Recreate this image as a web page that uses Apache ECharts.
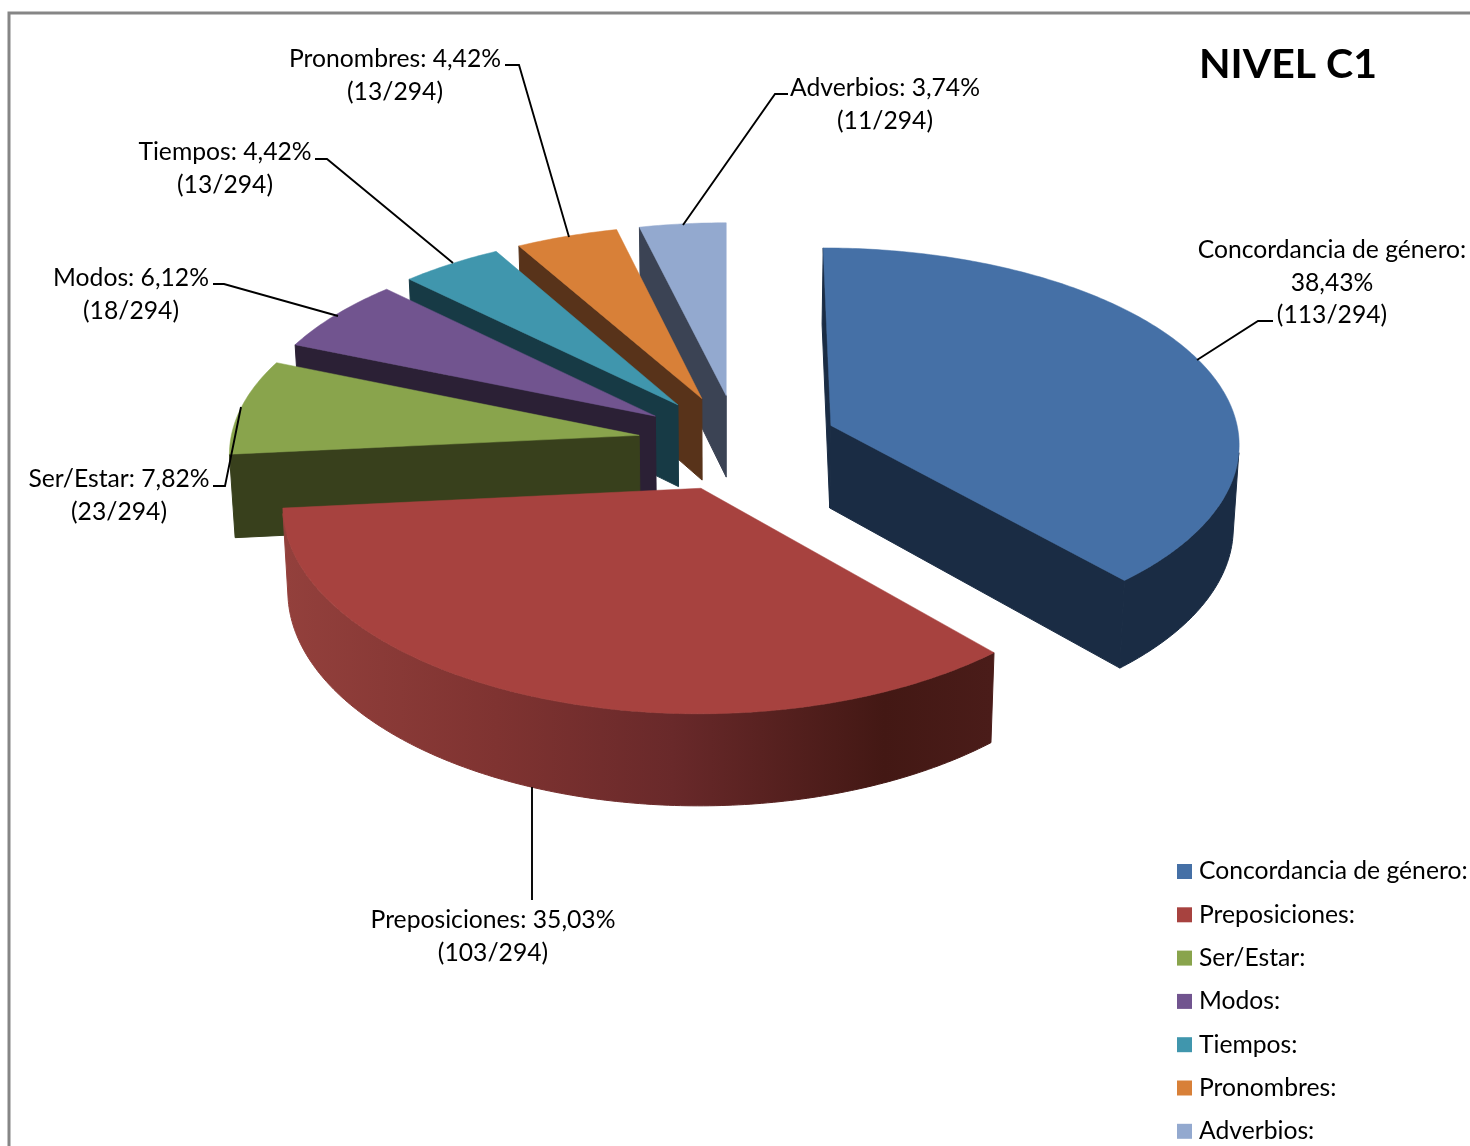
<!DOCTYPE html>
<html><head><meta charset="utf-8">
<style>html,body{margin:0;padding:0;background:#fff}#c{width:1470px;height:1146px}</style>
<script src="https://cdn.jsdelivr.net/npm/echarts@6/dist/echarts.min.js"></script>
</head><body><div id="c"></div>
<script>
const categories = ['Concordancia de género:','Preposiciones:','Ser/Estar:','Modos:','Tiempos:','Pronombres:','Adverbios:'];
const counts = [113,103,23,18,13,13,11];
const percentLabels = ['38,43','35,03','7,82','6,12','4,42','4,42','3,74'];
const topColors = ['#4570a6','#a7423f','#89a44c','#71548f','#4096ad','#d88038','#93a9cf'];
const sideColors = ['#1a2c44','#6e2c2a','#38401c','#2b2035','#173a45','#58331a','#3b4354'];
const rimColors = ['#1a2c44',null,'#7f9847','#2b2035','#173a45','#58331a','#3b4354'];
const redRimStops = [[0,'#93403c'],[0.3,'#7f3331'],[0.55,'#69292a'],[0.85,'#431814'],[1,'#4a1c19']];

const total = counts.reduce((a,b)=>a+b,0);
// projection of the tilted, exploded pie
const G = {xv:726,cxOff:12,y0:442.5,R:409,S:196.5,px:0.08,py:0.09,explode:0.245,D:83,conv:0.0115};
function project(X,Y){ const kx=1/(1-G.px*Y), ky=1/(1-G.py*Y); return [G.xv+(G.cxOff+G.R*X)*kx, G.y0+G.S*Y*ky, kx]; }
function lower(P){ return [P[0]+(G.xv-P[0])*G.conv, P[1]+G.D*P[2]]; }
function area(pts){ let s=0; for(let i=0;i<pts.length;i++){const a=pts[i],b=pts[(i+1)%pts.length]; s+=a[0]*b[1]-b[0]*a[1];} return s/2; }
function poly(points,fill){ return {type:'polygon',silent:true,shape:{points},style:{fill,stroke:fill,lineWidth:1}}; }

function sliceRenderer(i){
  return function(params,api){
    const value = api.value(0);
    let before=0; for(let j=0;j<i;j++) before+=counts[j];
    const a0=before/total*Math.PI*2, a1=(before+value)/total*Math.PI*2, mid=(a0+a1)/2;
    const ox=Math.sin(mid)*G.explode, oy=-Math.cos(mid)*G.explode;
    const apex=project(ox,oy);
    const rim=[]; const n=Math.max(8,Math.ceil((a1-a0)/(Math.PI/240)));
    for(let s=0;s<=n;s++){ const a=a0+(a1-a0)*s/n; rim.push(project(ox+Math.sin(a),oy-Math.cos(a))); }
    const children=[];
    const face=(P,Q,fill)=>{ const q=[P,Q,lower(Q),lower(P)].map(p=>[p[0],p[1]]); if(area(q)<0) children.push(poly(q,fill)); };
    face(apex,rim[0],sideColors[i]);
    face(rim[n],apex,sideColors[i]);
    // visible part of the curved rim
    let tops=[],bots=[];
    const rimFill = rimColors[i] || new echarts.graphic.LinearGradient(285,0,990,0,redRimStops.map(s=>({offset:s[0],color:s[1]})),true);
    const flush=()=>{ if(tops.length>1) children.push(poly(tops.concat(bots.slice().reverse()),rimFill)); tops=[];bots=[]; };
    for(let s=0;s<n;s++){
      const P=rim[s],Q=rim[s+1],Pb=lower(P),Qb=lower(Q);
      if(area([P,Q,Qb,Pb].map(p=>[p[0],p[1]]))<0){
        if(!tops.length){tops.push([P[0],P[1]]);bots.push(Pb);}
        tops.push([Q[0],Q[1]]);bots.push(Qb);
      } else flush();
    }
    flush();
    const topPts=[apex].concat(rim).map(p=>[p[0],p[1]]);
    children.push({type:'polygon',silent:true,shape:{points:topPts},style:{fill:topColors[i],stroke:topColors[i],lineWidth:0.5}});
    return {type:'group',children};
  };
}

const labelFont='Lato';
const labelSize=24.7;
const labelAnchors=[[1332,234],[493,904],[119,463],[131,262],[225,136],[395,43],[885,72]];
const leaderLines=[
 [[1273,321],[1258,321],[1197,360]],
 [[532,787],[532,900]],
 [[213,486],[225,486],[241,407]],
 [[213,284],[224,284],[338,316]],
 [[315,159],[327,159],[453,263]],
 [[505,65],[519,65],[569,237]],
 [[788,94],[775,94],[683,225]]
];
const graphics=[
 {type:'polyline',silent:true,z:100,shape:{points:[[9,1146],[9,13],[1470,13]]},style:{stroke:'#868686',lineWidth:3,fill:null}},
 {type:'text',silent:true,z:100,x:1288,y:65,style:{text:'NIVEL C1',fill:'#000',font:'bold 41px '+labelFont,textAlign:'center',textVerticalAlign:'middle'}}
];
categories.forEach((name,i)=>{
  const sep = i===0?'\n':' ';
  graphics.push({type:'text',silent:true,z:100,x:labelAnchors[i][0],y:labelAnchors[i][1],
    style:{text:name+sep+percentLabels[i]+'%\n('+counts[i]+'/'+total+')',fill:'#000',font:labelSize+'px '+labelFont,
      textAlign:'center',textVerticalAlign:'top',lineHeight:32.5}});
  graphics.push({type:'polyline',silent:true,z:100,shape:{points:leaderLines[i]},style:{stroke:'#000',lineWidth:1.9,fill:null}});
});

const chart=echarts.init(document.getElementById('c'),null,{renderer:'canvas'});
chart.setOption({
  backgroundColor:'#fff',
  animation:false,
  tooltip:{show:false},
  legend:{orient:'vertical',left:1177,top:858.5,padding:0,itemWidth:15,itemHeight:15,itemGap:17.3,icon:'rect',selectedMode:false,
    data:categories,textStyle:{fontFamily:labelFont,fontSize:labelSize,color:'#000',lineHeight:26,padding:[0,0,0,2]},
    itemStyle:{borderWidth:0}},
  graphic:{elements:graphics},
  series:categories.map((name,i)=>({
    type:'custom',name,coordinateSystem:'none',z:10-i,silent:true,
    itemStyle:{color:topColors[i]},
    data:[[counts[i]]],
    renderItem:sliceRenderer(i)
  }))
});
</script></body></html>
